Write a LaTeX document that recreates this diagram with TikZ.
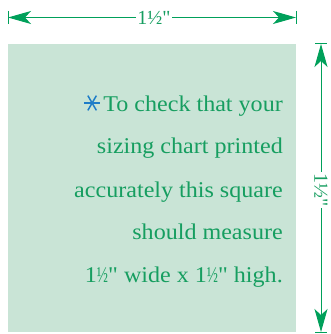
\documentclass[tikz,border=0pt]{standalone}
\usepackage{fontspec}
\setmainfont{Liberation Serif}[Ligatures=TeXOff]
\newfontfamily\bodyfont{Liberation Serif}[Ligatures=TeXOff,FakeStretch=1.07]
\usetikzlibrary{arrows.meta,calc}
\definecolor{sqfill}{RGB}{201,228,214}
\definecolor{txtgreen}{RGB}{22,158,96}
\definecolor{lngreen}{RGB}{0,160,90}
\definecolor{astblue}{RGB}{30,125,200}
\newcommand{\narrowhalf}{\scalebox{0.62}[1]{½}}
\tikzset{
  dimline/.style={draw=lngreen, line width=1pt, {Stealth[length=23pt,width=13pt,inset=6pt]}-{Stealth[length=23pt,width=13pt,inset=6pt]}},
  tickline/.style={draw=lngreen, line width=1pt},
  body/.style={text=txtgreen, font=\bodyfont\fontsize{22.5}{22.5}\selectfont, inner sep=0pt, anchor=base east},
  dimlabel/.style={text=txtgreen, fill=white, font=\fontsize{20}{20}\selectfont, inner sep=1.5pt},
  astline/.style={draw=astblue, line width=1.5pt}
}
\begin{document}
\begin{tikzpicture}[x=1pt,y=-1pt]
\useasboundingbox (0,0) rectangle (331,334);
\fill[white] (0,0) rectangle (331,334);
% square
\fill[sqfill] (8,44) rectangle (296,332);
% top dimension
\coordinate (tl) at (8,17.5);
\coordinate (tr) at (296,17.5);
\draw[tickline] (8,11) -- (8,24);
\draw[tickline] (296,11) -- (296,24);
\draw[dimline] (tl) -- (tr);
\node[dimlabel] (toplab) at (154,17.5) {1½"};
% right dimension
\coordinate (rt) at (321,44);
\coordinate (rb) at (321,332);
\draw[tickline] (315,44) -- (327,44);
\draw[tickline] (315,332) -- (327,332);
\draw[dimline] (rt) -- (rb);
\node[dimlabel, rotate=-90] (rightlab) at (321,190) {1½"};
% text
\node[body] (l1) at (283,111) {To check that your};
\coordinate (ast) at ($(l1.base west)+(-11,-8)$);
\draw[astline] ($(ast)+(-8,0)$) -- ($(ast)+(8,0)$);
\draw[astline] ($(ast)+(120:8.5)$) -- ($(ast)+(300:8.5)$);
\draw[astline] ($(ast)+(60:8.5)$) -- ($(ast)+(240:8.5)$);
\node[body] (l2) at (283,153.5) {sizing chart printed};
\node[body] (l3) at (283,197) {accurately this square};
\node[body] (l4) at (283,239) {should measure};
\node[body] (l5) at (283,282) {1\narrowhalf" wide x 1\narrowhalf" high.};
\end{tikzpicture}
\end{document}
